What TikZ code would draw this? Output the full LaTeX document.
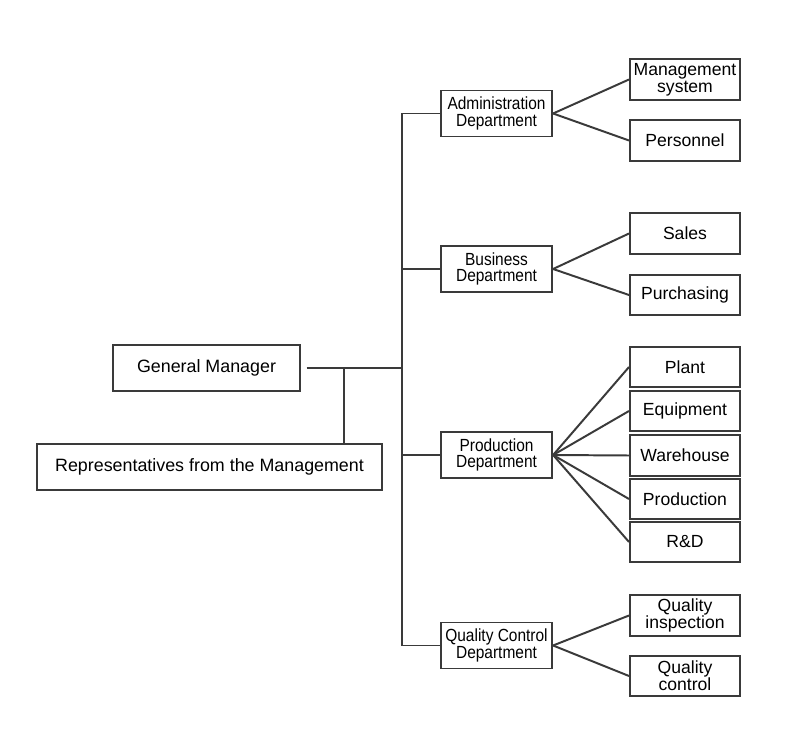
\documentclass[tikz,border=0pt]{standalone}
\usepackage{fontspec}
\setmainfont{Liberation Sans}
\newfontfamily\deptfont[FakeStretch=0.88]{Liberation Sans}
\usepackage{tikz}
\usetikzlibrary{positioning, calc}

\definecolor{linegray}{HTML}{3A3A3A}

\tikzset{
    box/.style={draw=linegray, line width=1.4pt, fill=white, align=center,
        inner sep=1pt, font=\fontsize{12.7}{12.7}\selectfont},
    dept/.style={box, minimum width=2.78cm, minimum height=1.15cm,
        font=\deptfont\fontsize{12.5}{12}\selectfont},
    unit/.style={box, minimum width=2.75cm, minimum height=1.02cm,
        font=\fontsize{12.5}{12}\selectfont},
    link/.style={draw=linegray, line width=1.4pt}
}

\begin{document}
\begin{tikzpicture}[x=0.025cm, y=-0.025cm]
    \useasboundingbox (0,0) rectangle (788,753);

    % Direction
    \node[box, minimum width=4.68cm, minimum height=1.13cm] (gm) at (206.5,368) {General Manager};
    \node[box, minimum width=8.63cm, minimum height=1.15cm] (reps) at (209.5,467) {Representatives from the Management};

    % Departements
    \node[dept] (admin) at (496.5,113.5) {Administration\\Department};
    \node[dept] (biz) at (496.5,269) {Business\\Department};
    \node[dept] (prod) at (496.5,455) {Production\\Department};
    \node[dept] (qc) at (496.5,645.5) {Quality Control\\Department};

    % Services
    \node[unit] (mgmt) at (685,79.5) {Management\\system};
    \node[unit] (pers) at (685,140.5) {Personnel};
    \node[unit] (sales) at (685,233.5) {Sales};
    \node[unit] (purch) at (685,295) {Purchasing};
    \node[unit] (plant) at (685,367) {Plant};
    \node[unit] (equip) at (685,411) {Equipment};
    \node[unit] (wareh) at (685,455.5) {Warehouse};
    \node[unit] (prodn) at (685,499) {Production};
    \node[unit] (rnd) at (685,542) {R\&D};
    \node[unit] (qinsp) at (685,615.5) {Quality\\inspection};
    \node[unit] (qctrl) at (685,676) {Quality\\control};

    % Liaisons
    \coordinate (bus) at (402,0);
    \coordinate (rj) at (344,0);
    \draw[link, shorten <=4pt] (gm.east) -- (gm.east -| bus);
    \draw[link] (gm.east -| rj) -- (reps.north -| rj);
    \draw[link] (admin.west -| bus) -- (qc.west -| bus);
    \foreach \d in {admin, biz, prod, qc}
        \draw[link] (\d.west -| bus) -- (\d.west);

    \foreach \d/\u in {admin/mgmt, admin/pers, biz/sales, biz/purch,
                       prod/plant, prod/equip, prod/wareh, prod/prodn, prod/rnd,
                       qc/qinsp, qc/qctrl}
        \draw[link] (\d.east) -- (\u.west);
\end{tikzpicture}
\end{document}
